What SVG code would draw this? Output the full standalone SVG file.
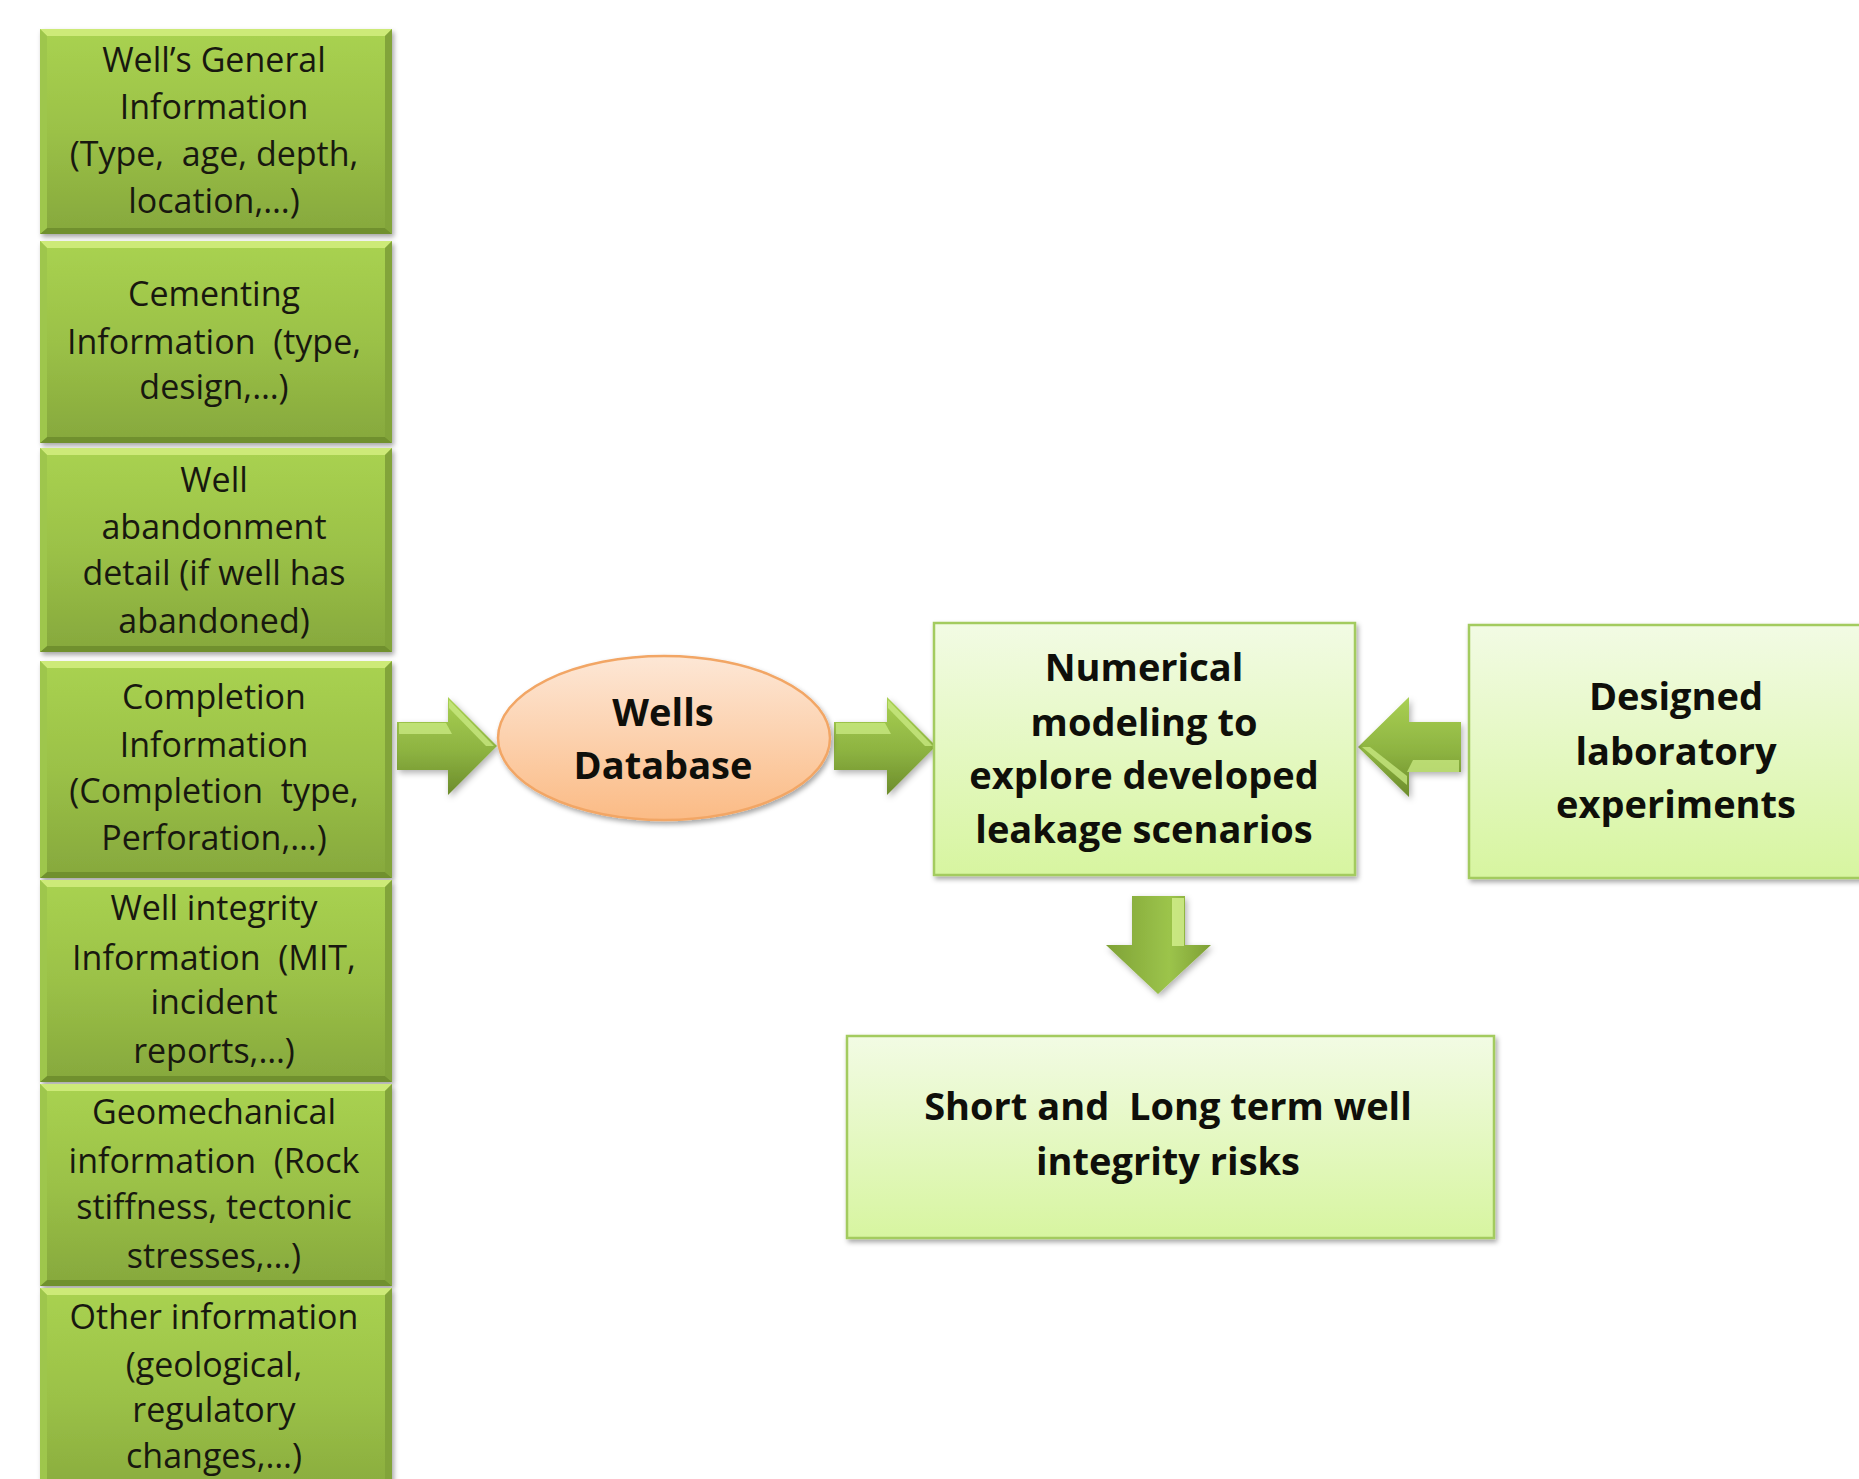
<svg xmlns="http://www.w3.org/2000/svg" width="1859" height="1479" viewBox="0 0 1859 1479">
<defs>
<style>
.t{font-family:"Open Sans","Liberation Sans",sans-serif;font-size:34px;fill:#18180f;text-anchor:middle;white-space:pre}
.b{font-family:"Open Sans","Liberation Sans",sans-serif;font-weight:700;font-size:38px;fill:#0f0f0a;text-anchor:middle;white-space:pre}
.box{fill:url(#gBox);filter:url(#sh)}
.bt{fill:#cdea78}
.bb{fill:#70902e}
.bl{fill:#9ec64c}
.br{fill:#82a43a}
.lb{fill:url(#gLight);stroke:#a3cb5e;stroke-width:2.5;filter:url(#sh)}
.arr{fill:url(#gArrH);filter:url(#sh2)}
.hl{fill:#cbeb84;opacity:0.75}
</style>
<linearGradient id="gBox" x1="0" y1="0" x2="0" y2="1">
<stop offset="0" stop-color="#a9d251"/>
<stop offset="0.5" stop-color="#9bc147"/>
<stop offset="1" stop-color="#86a83d"/>
</linearGradient>
<linearGradient id="gLight" x1="0" y1="0" x2="0" y2="1">
<stop offset="0" stop-color="#f2fbe4"/>
<stop offset="1" stop-color="#d7f5a0"/>
</linearGradient>
<linearGradient id="gOval" x1="0" y1="0" x2="0" y2="1">
<stop offset="0" stop-color="#fde7d6"/>
<stop offset="1" stop-color="#fbbb85"/>
</linearGradient>
<linearGradient id="gArrH" x1="0" y1="0" x2="0" y2="1">
<stop offset="0" stop-color="#a9d053"/>
<stop offset="0.55" stop-color="#8db341"/>
<stop offset="1" stop-color="#6c8c2b"/>
</linearGradient>
<linearGradient id="gArrV" x1="0" y1="0" x2="1" y2="0">
<stop offset="0" stop-color="#7fa236"/>
<stop offset="0.6" stop-color="#9cc44b"/>
<stop offset="1" stop-color="#7e9f35"/>
</linearGradient>
<filter id="sh" x="-10%" y="-10%" width="125%" height="125%">
<feDropShadow dx="2" dy="3" stdDeviation="2.5" flood-color="#000" flood-opacity="0.35"/>
</filter>
<filter id="sh2" x="-20%" y="-20%" width="150%" height="150%">
<feDropShadow dx="2" dy="3" stdDeviation="3" flood-color="#000" flood-opacity="0.3"/>
</filter>
</defs>
<rect width="1859" height="1479" fill="#ffffff"/>

<g id="connectors">
<g id="arrow-column-to-db">
<polygon class="arr" points="397,722 448,722 448,697 497,746 448,795 448,770 397,770"/>
<polygon class="hl" points="399,723 446,723 452,734 399,734"/>
<polygon class="hl" points="449,700 494,746 486,746 449,708"/>
</g>
<g id="arrow-db-to-model">
<polygon class="arr" points="834,722 887,722 887,697 936,746 887,795 887,770 834,770"/>
<polygon class="hl" points="836,723 885,723 891,734 836,734"/>
<polygon class="hl" points="888,700 933,746 925,746 888,708"/>
</g>
<g id="arrow-lab-to-model">
<polygon class="arr" points="1461,722 1409,722 1409,697 1358,747 1409,797 1409,772 1461,772"/>
<polygon class="hl" points="1459,760 1413,760 1407,772 1459,772"/>
<polygon class="hl" points="1407,785 1362,747 1370,747 1407,776"/>
</g>
<g id="arrow-model-to-risks">
<polygon fill="url(#gArrV)" filter="url(#sh2)" points="1132,896 1185,896 1185,945 1211,945 1158,994 1106,945 1132,945"/>
<polygon fill="#d4f08e" opacity="0.8" points="1172,898 1184,898 1184,946 1172,946"/>
</g>
</g>

<g id="n1">
<rect class="box" x="40" y="29" width="352" height="205"/>
<polygon class="bt" points="40,29 392,29 385,36 47,36"/>
<polygon class="bb" points="40,234 392,234 385,228 47,228"/>
<polygon class="bl" points="40,29 47,36 47,228 40,234"/>
<polygon class="br" points="392,29 385,36 385,228 392,234"/>
<text class="t" x="214" y="72">Well’s General</text>
<text class="t" x="214" y="119">Information</text>
<text class="t" x="214" y="166">(Type,  age, depth,</text>
<text class="t" x="214" y="213">location,…)</text>
</g>

<g id="n2">
<rect class="box" x="40" y="241" width="352" height="202"/>
<polygon class="bt" points="40,241 392,241 385,248 47,248"/>
<polygon class="bb" points="40,443 392,443 385,437 47,437"/>
<polygon class="bl" points="40,241 47,248 47,437 40,443"/>
<polygon class="br" points="392,241 385,248 385,437 392,443"/>
<text class="t" x="214" y="306">Cementing</text>
<text class="t" x="214" y="354">Information  (type,</text>
<text class="t" x="214" y="399">design,…)</text>
</g>

<g id="n3">
<rect class="box" x="40" y="448" width="352" height="204"/>
<polygon class="bt" points="40,448 392,448 385,455 47,455"/>
<polygon class="bb" points="40,652 392,652 385,646 47,646"/>
<polygon class="bl" points="40,448 47,455 47,646 40,652"/>
<polygon class="br" points="392,448 385,455 385,646 392,652"/>
<text class="t" x="214" y="492">Well</text>
<text class="t" x="214" y="539">abandonment</text>
<text class="t" x="214" y="585">detail (if well has</text>
<text class="t" x="214" y="633">abandoned)</text>
</g>

<g id="n4">
<rect class="box" x="40" y="661" width="352" height="217"/>
<polygon class="bt" points="40,661 392,661 385,668 47,668"/>
<polygon class="bb" points="40,878 392,878 385,872 47,872"/>
<polygon class="bl" points="40,661 47,668 47,872 40,878"/>
<polygon class="br" points="392,661 385,668 385,872 392,878"/>
<text class="t" x="214" y="709">Completion</text>
<text class="t" x="214" y="757">Information</text>
<text class="t" x="214" y="803">(Completion  type,</text>
<text class="t" x="214" y="850">Perforation,…)</text>
</g>

<g id="n5">
<rect class="box" x="40" y="880" width="352" height="202"/>
<polygon class="bt" points="40,880 392,880 385,887 47,887"/>
<polygon class="bb" points="40,1082 392,1082 385,1076 47,1076"/>
<polygon class="bl" points="40,880 47,887 47,1076 40,1082"/>
<polygon class="br" points="392,880 385,887 385,1076 392,1082"/>
<text class="t" x="214" y="920">Well integrity</text>
<text class="t" x="214" y="970">Information  (MIT,</text>
<text class="t" x="214" y="1014">incident</text>
<text class="t" x="214" y="1063">reports,…)</text>
</g>

<g id="n6">
<rect class="box" x="40" y="1084" width="352" height="202"/>
<polygon class="bt" points="40,1084 392,1084 385,1091 47,1091"/>
<polygon class="bb" points="40,1286 392,1286 385,1280 47,1280"/>
<polygon class="bl" points="40,1084 47,1091 47,1280 40,1286"/>
<polygon class="br" points="392,1084 385,1091 385,1280 392,1286"/>
<text class="t" x="214" y="1124">Geomechanical</text>
<text class="t" x="214" y="1173">information  (Rock</text>
<text class="t" x="214" y="1219">stiffness, tectonic</text>
<text class="t" x="214" y="1268">stresses,…)</text>
</g>

<g id="n7">
<rect class="box" x="40" y="1288" width="352" height="220"/>
<polygon class="bt" points="40,1288 392,1288 385,1295 47,1295"/>
<polygon class="bl" points="40,1288 47,1295 47,1508 40,1508"/>
<polygon class="br" points="392,1288 385,1295 385,1508 392,1508"/>
<text class="t" x="214" y="1329">Other information</text>
<text class="t" x="214" y="1377">(geological,</text>
<text class="t" x="214" y="1422">regulatory</text>
<text class="t" x="214" y="1468">changes,…)</text>
</g>

<g id="wells-db">
<ellipse cx="664" cy="738" rx="166" ry="82" fill="url(#gOval)" stroke="#f2a665" stroke-width="2.5" filter="url(#sh)"/>
<text class="b" x="663" y="726">Wells</text>
<text class="b" x="663" y="779">Database</text>
</g>

<g id="numerical-model">
<rect class="lb" x="934" y="623" width="421" height="252"/>
<text class="b" x="1144" y="681">Numerical</text>
<text class="b" x="1144" y="736">modeling to</text>
<text class="b" x="1144" y="789">explore developed</text>
<text class="b" x="1144" y="843">leakage scenarios</text>
</g>

<g id="lab-experiments">
<rect class="lb" x="1469" y="625" width="420" height="253"/>
<text class="b" x="1676" y="710">Designed</text>
<text class="b" x="1676" y="765">laboratory</text>
<text class="b" x="1676" y="818">experiments</text>
</g>

<g id="risks">
<rect class="lb" x="847" y="1036" width="647" height="202"/>
<text class="b" x="1168" y="1120">Short and  Long term well</text>
<text class="b" x="1168" y="1175">integrity risks</text>
</g>
</svg>
